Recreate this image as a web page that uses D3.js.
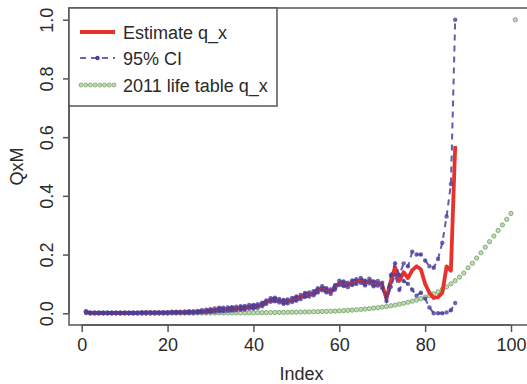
<!DOCTYPE html>
<html><head><meta charset="utf-8">
<script src="https://cdn.jsdelivr.net/npm/d3@7"></script>
<style>
html,body{margin:0;padding:0;background:#fff;}
svg{display:block;font-family:"Liberation Sans",Arial,Helvetica,sans-serif;}
</style></head>
<body><svg id="c" width="527" height="384"></svg>
<script>
// ---- data ----
const estimate = [
0.004,0.001,0.001,0.001,0.001,0.001,0.001,0.001,0.001,0.001,
0.001,0.001,0.001,0.002,0.002,0.002,0.002,0.002,0.002,0.002,
0.003,0.003,0.003,0.003,0.004,0.004,0.005,0.006,0.007,0.009,
0.010,0.013,0.013,0.014,0.015,0.016,0.018,0.019,0.022,0.022,
0.025,0.030,0.038,0.045,0.047,0.043,0.038,0.040,0.045,0.050,
0.055,0.062,0.064,0.068,0.078,0.085,0.078,0.073,0.088,0.103,
0.100,0.096,0.104,0.108,0.112,0.103,0.110,0.100,0.102,0.095,
0.050,0.110,0.157,0.110,0.140,0.120,0.147,0.160,0.150,0.100,
0.070,0.052,0.055,0.070,0.160,0.145,0.570];
const ciUpper = [
0.007,0.003,0.003,0.003,0.003,0.003,0.003,0.003,0.003,0.003,
0.003,0.003,0.003,0.004,0.004,0.004,0.004,0.004,0.004,0.004,
0.005,0.005,0.005,0.006,0.007,0.007,0.008,0.010,0.012,0.014,
0.016,0.019,0.019,0.020,0.021,0.022,0.024,0.025,0.028,0.028,
0.031,0.036,0.044,0.051,0.053,0.049,0.045,0.047,0.052,0.057,
0.062,0.069,0.071,0.075,0.085,0.092,0.085,0.081,0.096,0.111,
0.108,0.104,0.112,0.116,0.120,0.111,0.118,0.108,0.110,0.104,
0.060,0.130,0.170,0.130,0.170,0.160,0.210,0.200,0.200,0.180,
0.160,0.155,0.185,0.240,0.330,0.440,1.000];
const ciLower = [
0.001,0.000,0.000,0.000,0.000,0.000,0.000,0.000,0.000,0.000,
0.000,0.000,0.000,0.000,0.000,0.000,0.000,0.000,0.000,0.000,
0.001,0.001,0.001,0.001,0.001,0.001,0.002,0.003,0.003,0.004,
0.005,0.007,0.007,0.008,0.009,0.010,0.012,0.013,0.016,0.016,
0.019,0.024,0.032,0.039,0.041,0.037,0.032,0.034,0.038,0.043,
0.048,0.055,0.057,0.061,0.071,0.078,0.071,0.066,0.081,0.096,
0.093,0.089,0.096,0.100,0.104,0.095,0.102,0.092,0.094,0.086,
0.042,0.090,0.130,0.080,0.110,0.100,0.080,0.060,0.070,0.050,
0.020,0.000,0.000,0.000,0.003,0.010,0.035];
const lifeTable = [
0.0050,0.0004,0.0003,0.0002,0.0002,0.0002,0.0001,0.0001,0.0001,0.0001,
0.0001,0.0002,0.0002,0.0002,0.0003,0.0003,0.0004,0.0005,0.0005,0.0006,
0.0006,0.0006,0.0007,0.0007,0.0007,0.0007,0.0008,0.0008,0.0008,0.0009,
0.0009,0.0010,0.0010,0.0011,0.0012,0.0012,0.0013,0.0014,0.0016,0.0017,
0.0019,0.0020,0.0022,0.0024,0.0026,0.0028,0.0030,0.0032,0.0035,0.0038,
0.0041,0.0044,0.0047,0.0051,0.0055,0.0059,0.0063,0.0068,0.0073,0.0080,
0.0088,0.0097,0.0107,0.0118,0.0130,0.0143,0.0158,0.0174,0.0190,0.0210,
0.0230,0.0255,0.0280,0.0310,0.0340,0.0375,0.0410,0.0450,0.0500,0.0550,
0.0600,0.0660,0.0730,0.0810,0.0900,0.1000,0.1110,0.1230,0.1370,0.1550,
0.1700,0.1880,0.2060,0.2250,0.2440,0.2630,0.2820,0.3010,0.3200,0.3400];
const terminalPoint = [{index:101, q:1.0}];
const xTicks = [0,20,40,60,80,100];
const yTicks = [0.0,0.2,0.4,0.6,0.8,1.0];
const legendLabels = ["Estimate q_x","95% CI","2011 life table q_x"];
const xLabel = "Index", yLabel = "QxM";

// ---- layout ----
const svg = d3.select("#c");
const L = 69, R = 528, T = 8, B = 325;
const x = d3.scaleLinear().domain([1 - 0.04*99, 100 + 0.04*99]).range([L, R]);
const y = d3.scaleLinear().domain([-0.04, 1.04]).range([B, T]);
const axisCol = "#555", textCol = "#2a2a2a";
const red = "#e8312b", blue = "#4a3d9c", green = "#7fae72";

const idx = a => a.map((v,i)=>({index:i+1,q:v}));

const g = svg.append("g");
// life table points
g.selectAll("circle.lt").data(idx(lifeTable)).join("circle")
  .attr("class","lt").attr("cx",d=>x(d.index)).attr("cy",d=>y(d.q)).attr("r",2.1)
  .attr("fill","#c2dab8").attr("stroke",green).attr("stroke-width",1);
g.selectAll("circle.term").data(terminalPoint).join("circle")
  .attr("cx",d=>x(d.index)).attr("cy",d=>y(d.q)).attr("r",2.1)
  .attr("fill","#ccc").attr("stroke","#999").attr("stroke-width",1);

const line = d3.line().x(d=>x(d.index)).y(d=>y(d.q));
// estimate
g.append("path").datum(idx(estimate)).attr("d",line)
  .attr("fill","none").attr("stroke",red).attr("stroke-width",3.8).attr("stroke-linejoin","round");
// CI
[ciUpper, ciLower].forEach(arr=>{
  g.append("path").datum(idx(arr)).attr("d",line)
    .attr("fill","none").attr("stroke",blue).attr("stroke-width",2)
    .attr("stroke-dasharray","6,5").attr("opacity",0.85);
  g.selectAll(null).data(idx(arr)).join("circle")
    .attr("cx",d=>x(d.index)).attr("cy",d=>y(d.q)).attr("r",2.2)
    .attr("fill",blue).attr("opacity",0.8);
});

// frame
svg.append("rect").attr("x",L).attr("y",T).attr("width",R-L).attr("height",B-T)
  .attr("fill","none").attr("stroke",axisCol).attr("stroke-width",1.5);

// axes
const xa = svg.append("g").attr("transform",`translate(0,${B})`)
  .call(d3.axisBottom(x).tickValues(xTicks).tickSize(7).tickSizeOuter(0).tickPadding(6).tickFormat(d3.format("d")));
xa.select(".domain").attr("d",`M${x(0)},0H${x(100)}`).attr("stroke",axisCol).attr("stroke-width",1.5);
xa.selectAll(".tick line").attr("stroke",axisCol).attr("stroke-width",1.5);
xa.selectAll(".tick text").attr("font-size",18).attr("fill",textCol).attr("font-family","Liberation Sans, Arial, sans-serif");

const ya = svg.append("g").attr("transform",`translate(${L},0)`)
  .call(d3.axisLeft(y).tickValues(yTicks).tickSize(6).tickSizeOuter(0).tickFormat(d3.format(".1f")));
ya.select(".domain").attr("d",`M0,${y(0)}V${y(1)}`).attr("stroke",axisCol).attr("stroke-width",1.5);
ya.selectAll(".tick line").attr("stroke",axisCol).attr("stroke-width",1.5);
ya.selectAll(".tick text").attr("font-size",18).attr("fill",textCol)
  .attr("font-family","Liberation Sans, Arial, sans-serif")
  .attr("x",null).attr("dy",null)
  .attr("text-anchor","middle")
  .attr("transform","translate(-16,0) rotate(-90)");

svg.append("text").attr("x",(L+R)/2 + 3).attr("y",380).attr("text-anchor","middle")
  .attr("font-size",18).attr("fill",textCol).text(xLabel);
svg.append("text").attr("transform",`translate(23,${(T+B)/2}) rotate(-90)`).attr("text-anchor","middle")
  .attr("font-size",18).attr("fill",textCol).text(yLabel);

// legend
const lg = svg.append("g");
lg.append("rect").attr("x",L).attr("y",T).attr("width",208).attr("height",98)
  .attr("fill","#fff").attr("stroke",axisCol).attr("stroke-width",1.5);
const ly = [32,58,85];
lg.append("line").attr("x1",80).attr("x2",115).attr("y1",ly[0]).attr("y2",ly[0])
  .attr("stroke",red).attr("stroke-width",3.8);
lg.append("line").attr("x1",80).attr("x2",115).attr("y1",ly[1]).attr("y2",ly[1])
  .attr("stroke",blue).attr("stroke-width",2).attr("stroke-dasharray","6,5").attr("opacity",0.8);
lg.append("circle").attr("cx",97.5).attr("cy",ly[1]).attr("r",2.2).attr("fill",blue);
lg.selectAll("circle.lgl").data(d3.range(8)).join("circle").attr("class","lgl")
  .attr("cx",d=>81+d*4.7).attr("cy",ly[2]).attr("r",2)
  .attr("fill","#c2dab8").attr("stroke",green).attr("stroke-width",0.9);
lg.selectAll("text").data(legendLabels).join("text")
  .attr("x",123).attr("y",(d,i)=>ly[i]+6.5).attr("font-size",18).attr("fill",textCol).text(d=>d);
</script></body></html>
